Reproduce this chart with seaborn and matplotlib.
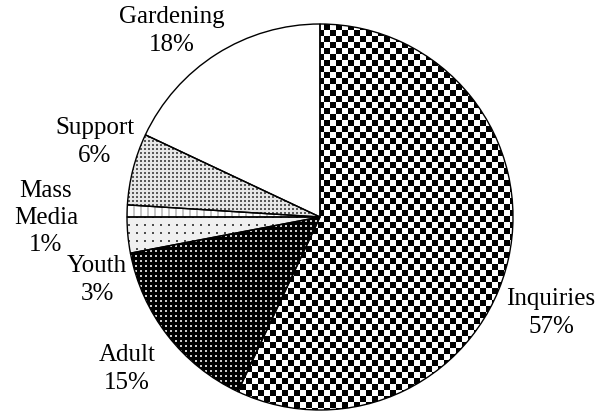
import numpy as np
import matplotlib
matplotlib.use("Agg")
import matplotlib.pyplot as plt
import seaborn as sns

sns.set_theme(style="white")
plt.rcParams['font.family'] = ['Liberation Serif', 'DejaVu Serif']

categories = ["Inquiries", "Adult", "Youth", "Mass\nMedia", "Support", "Gardening"]
values = [57, 15, 3, 1, 6, 18]

# layout (pixel positions of label centres, from the top-left)
label_px = [(551, 313), (127, 369), (97, 280), (46, 218), (95, 142), (172, 31)]
W, H = 600, 417
CX, CY, R = 320, 217, 193

fig = plt.figure(figsize=(W / 100, H / 100), dpi=100)
ax = fig.add_axes([0, 0, 1, 1])
wedges, _ = ax.pie(values, startangle=90, counterclock=False, radius=1,
                   colors=["white"] * len(values),
                   wedgeprops=dict(edgecolor="black", linewidth=1.0))
x0, x1 = (0 - CX) / R, (W - CX) / R
y0, y1 = (CY - H) / R, (CY - 0) / R
ax.set_xlim(x0, x1)
ax.set_ylim(y0, y1)
ax.set_aspect('equal')
ax.axis('off')

yy, xx = np.mgrid[0:H, 0:W]

def checker(s):
    return np.where(((xx // s) + (yy // s)) % 2 == 0, 0.0, 1.0)

def dots(bg, fg, step, size=2, ox=0, oy=0):
    a = np.full((H, W), bg)
    m = (((xx + ox) % step) < size) & (((yy + oy) % step) < size)
    a[m] = fg
    return a

def vlines(bg, fg, step, width=2):
    a = np.full((H, W), bg)
    a[(xx % step) < width] = fg
    return a

patterns = [
    checker(6),
    dots(0.0, 0.8, 5, 2),
    dots(0.94, 0.3, 8, 2),
    vlines(1.0, 0.78, 7, 2),
    dots(0.9, 0.35, 4, 2),
    np.ones((H, W)),
]

for w, pat in zip(wedges, patterns):
    im = ax.imshow(pat, cmap='gray', vmin=0, vmax=1, extent=(x0, x1, y0, y1),
                   origin='upper', interpolation='nearest', zorder=0.5)
    im.set_clip_path(w)
    w.set_facecolor('none')
    w.set_zorder(2)

ax.set_xlim(x0, x1)
ax.set_ylim(y0, y1)

for cat, v, (px, py) in zip(categories, values, label_px):
    ax.text((px - CX) / R, (CY - py) / R, f"{cat}\n{v}%", ha='center', va='center',
            multialignment='center', fontsize=18, linespacing=1.3, color='black')

fig.savefig("out.png", dpi=100)
